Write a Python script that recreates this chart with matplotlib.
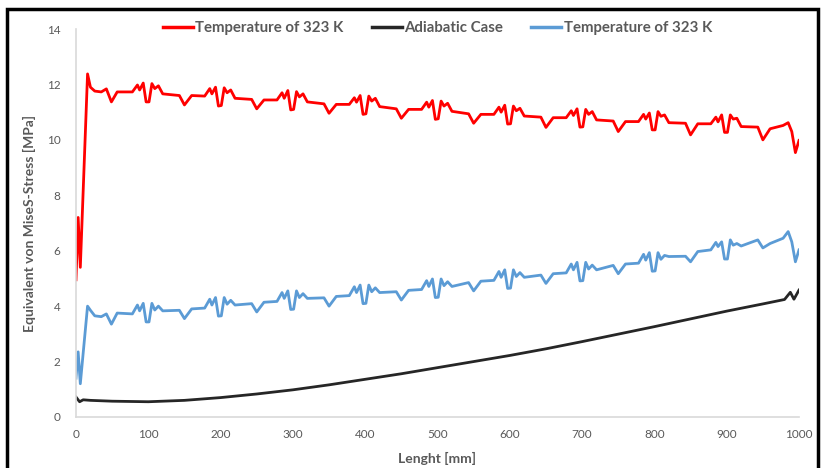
import matplotlib
matplotlib.use('Agg')
import matplotlib.pyplot as plt
from matplotlib.patches import Rectangle

plt.rcParams['font.family'] = ['Lato', 'DejaVu Sans']

# length positions [mm] for the two temperature curves
x_temp = [0, 3, 6, 16, 20, 26, 35, 42, 49, 57,
          78, 85, 88, 93, 97, 101, 105, 109, 114, 120, 143, 150, 160,
          178, 185, 188, 193, 197, 201, 205, 209, 214, 220, 243, 250, 260,
          278, 285, 288, 293, 297, 301, 305, 309, 314, 320, 343, 350, 360,
          378, 385, 388, 393, 397, 401, 405, 409, 414, 420, 443, 450, 460,
          478, 485, 488, 493, 497, 501, 505, 509, 514, 520, 543, 550, 560,
          578, 585, 588, 593, 597, 601, 605, 609, 614, 620, 643, 650, 660,
          678, 685, 688, 693, 697, 701, 705, 709, 714, 720, 743, 750, 760,
          778, 785, 788, 793, 797, 801, 805, 809, 814, 820, 843, 850, 860,
          878, 885, 888, 893, 897, 901, 905, 909, 914, 920, 943, 950, 960,
          978, 985, 990, 995, 1000]

# red curve [MPa]
stress_red = [4.95, 7.20, 5.40, 12.38, 11.90, 11.76, 11.73, 11.84, 11.37, 11.73,
              11.73, 11.98, 11.80, 12.05, 11.37, 11.37, 12.03, 11.85, 11.95, 11.66, 11.60, 11.26, 11.60,
              11.58, 11.85, 11.66, 11.90, 11.22, 11.24, 11.88, 11.70, 11.80, 11.50, 11.46, 11.12, 11.44,
              11.44, 11.70, 11.50, 11.78, 11.08, 11.10, 11.74, 11.55, 11.66, 11.37, 11.30, 10.96, 11.28,
              11.28, 11.52, 11.36, 11.60, 10.92, 10.94, 11.58, 11.40, 11.50, 11.20, 11.12, 10.78, 11.10,
              11.10, 11.36, 11.18, 11.42, 10.74, 10.76, 11.40, 11.22, 11.32, 11.03, 10.94, 10.60, 10.92,
              10.92, 11.18, 11.00, 11.25, 10.57, 10.58, 11.22, 11.05, 11.14, 10.86, 10.82, 10.45, 10.80,
              10.80, 11.05, 10.88, 11.12, 10.46, 10.47, 11.10, 10.92, 11.02, 10.72, 10.68, 10.30, 10.66,
              10.66, 10.92, 10.75, 10.97, 10.36, 10.36, 11.02, 10.85, 10.90, 10.62, 10.60, 10.18, 10.58,
              10.58, 10.82, 10.65, 10.90, 10.27, 10.27, 10.90, 10.75, 10.78, 10.48, 10.46, 10.00, 10.40,
              10.52, 10.62, 10.30, 9.54, 9.98]

# blue curve [MPa]
stress_blue = [1.40, 2.35, 1.20, 4.00, 3.85, 3.65, 3.62, 3.72, 3.35, 3.75,
               3.72, 4.04, 3.83, 4.10, 3.43, 3.43, 4.10, 3.86, 4.00, 3.83, 3.85, 3.55, 3.90,
               3.93, 4.25, 4.04, 4.31, 3.64, 3.65, 4.31, 4.07, 4.21, 4.04, 4.09, 3.79, 4.14,
               4.17, 4.49, 4.28, 4.55, 3.88, 3.89, 4.55, 4.31, 4.45, 4.28, 4.30, 4.00, 4.35,
               4.38, 4.70, 4.49, 4.76, 4.09, 4.10, 4.76, 4.52, 4.66, 4.49, 4.52, 4.22, 4.57,
               4.60, 4.92, 4.71, 4.98, 4.31, 4.32, 4.98, 4.74, 4.88, 4.71, 4.85, 4.55, 4.90,
               4.93, 5.25, 5.04, 5.31, 4.64, 4.65, 5.31, 5.07, 5.21, 5.04, 5.12, 4.82, 5.17,
               5.20, 5.52, 5.31, 5.58, 4.91, 4.92, 5.58, 5.34, 5.48, 5.31, 5.47, 5.17, 5.52,
               5.55, 5.87, 5.66, 5.93, 5.26, 5.27, 5.93, 5.69, 5.83, 5.79, 5.80, 5.60, 5.97,
               6.03, 6.30, 6.15, 6.32, 5.70, 5.70, 6.39, 6.20, 6.26, 6.17, 6.39, 6.10, 6.26,
               6.45, 6.69, 6.32, 5.60, 6.03]

# adiabatic case
x_adia = [0, 5, 10, 20, 50, 100, 150, 200, 250, 300, 350, 400, 450, 500, 550,
          600, 650, 700, 750, 800, 850, 900, 950, 980, 988, 993, 1000]
stress_adia = [0.72, 0.55, 0.62, 0.60, 0.57, 0.55, 0.60, 0.70, 0.83, 0.98, 1.16, 1.36, 1.56, 1.78, 2.00,
               2.22, 2.46, 2.72, 2.99, 3.26, 3.54, 3.82, 4.08, 4.24, 4.50, 4.25, 4.58]

labels = ['Temperature of 323 K', 'Adiabatic Case', 'Temperature of 323 K']
gray = '#595959'

fig = plt.figure(figsize=(8.25, 4.68), dpi=100)
ax = fig.add_axes([0.0921, 0.109, 0.8764, 0.829])

ax.plot(x_temp, stress_red, color='#FF0000', lw=2.0, label=labels[0])
ax.plot(x_adia, stress_adia, color='#262626', lw=2.0, label=labels[1])
ax.plot(x_temp, stress_blue, color='#5B9BD5', lw=2.0, label=labels[2])

ax.set_xlim(0, 1000)
ax.set_ylim(0, 14)
ax.set_xticks(range(0, 1001, 100))
ax.set_yticks(range(0, 15, 2))
ax.tick_params(length=0, labelsize=8.5, labelcolor=gray)
ax.tick_params(axis='x', pad=9)
ax.tick_params(axis='y', pad=11)
for s in ['top', 'right']:
    ax.spines[s].set_visible(False)
for s in ['left', 'bottom']:
    ax.spines[s].set_color('#D9D9D9')
    ax.spines[s].set_linewidth(1.2)

ax.set_xlabel('Lenght [mm]', fontsize=10, fontweight='bold', color=gray, labelpad=8)
ax.set_ylabel('Equivalent von MiseS-Stress [MPa]', fontsize=10, fontweight='bold', color=gray, labelpad=8)

leg = fig.legend(loc='center', bbox_to_anchor=(0.530, 0.94), ncol=3, frameon=False,
                 handlelength=2.0, handletextpad=0.15, columnspacing=1.9,
                 prop={'size': 10.8, 'weight': 'bold'})
for t in leg.get_texts():
    t.set_color(gray)
for h in leg.legend_handles:
    h.set_linewidth(2.5)

# black frame round the picture
fig.patches.append(Rectangle((7 / 825, -0.1), 811 / 825, 1.1 - 9 / 468, transform=fig.transFigure,
                             fill=False, edgecolor='black', lw=2.5, clip_on=False))

fig.savefig('out.png', dpi=100)
